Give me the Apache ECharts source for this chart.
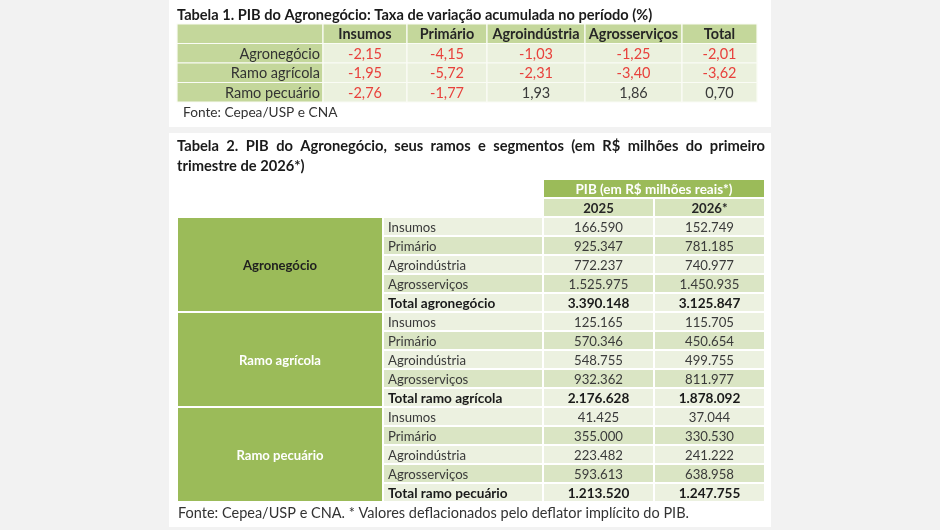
<!DOCTYPE html>
<html>
<head>
<meta charset="utf-8">
<script src="https://cdn.jsdelivr.net/npm/echarts@6/dist/echarts.min.js"></script>
<style>
  html, body { margin: 0; padding: 0; background: #f2f2f2; }
  #main { width: 940px; height: 530px; }
</style>
</head>
<body>
<div id="main"></div>
<script>
// Tabela 1 - taxa de variacao acumulada (%)
var t1Columns = ["Insumos", "Primário", "Agroindústria", "Agrosserviços", "Total"];
var t1Rows = ["Agronegócio", "Ramo agrícola", "Ramo pecuário"];
var t1Agronegocio = [-2.15, -4.15, -1.03, -1.25, -2.01];
var t1Agricola = [-1.95, -5.72, -2.31, -3.40, -3.62];
var t1Pecuario = [-2.76, -1.77, 1.93, 1.86, 0.70];

// Tabela 2 - PIB em R$ milhoes
var t2Groups = ["Agronegócio", "Ramo agrícola", "Ramo pecuário"];
var t2Segments = ["Insumos", "Primário", "Agroindústria", "Agrosserviços"];
var t2Totals = ["Total agronegócio", "Total ramo agrícola", "Total ramo pecuário"];
var t2Header = "PIB (em R$ milhões reais*)";
var t2Years = ["2025", "2026*"];
var pib2025 = [166590, 925347, 772237, 1525975, 3390148,
               125165, 570346, 548755, 932362, 2176628,
               41425, 355000, 223482, 593613, 1213520];
var pib2026 = [152749, 781185, 740977, 1450935, 3125847,
               115705, 450654, 499755, 811977, 1878092,
               37044, 330530, 241222, 638958, 1247755];

var title1 = "Tabela 1. PIB do Agronegócio: Taxa de variação acumulada no período (%)";
var title2a = "Tabela 2. PIB do Agronegócio, seus ramos e segmentos (em R$ milhões do primeiro";
var title2b = "trimestre de 2026*)";
var fonte1 = "Fonte: Cepea/USP e CNA";
var fonte2 = "Fonte: Cepea/USP e CNA. * Valores deflacionados pelo deflator implícito do PIB.";

var FAMILY = 'Lato, "Open Sans", sans-serif';
var ctx = document.createElement("canvas").getContext("2d");
function textW(t, weight, size) {
  ctx.font = weight + " " + size + "px " + FAMILY;
  return ctx.measureText(t).width;
}
// font size that gives the text the width it has in the picture
function fit(t, weight, w) {
  return Math.round(100 * w / textW(t, weight, 100) * 10) / 10;
}

function fmtPct(v) { return v.toFixed(2).replace(".", ","); }
function fmtMil(v) { return String(v).replace(/\B(?=(\d{3})+(?!\d))/g, "."); }

var t1Size = fit("Ramo pecuário", "normal", 95);
var t1HeadSize = fit("Agroindústria", "bold", 87);
var t2Size = fit("Agroindústria", "normal", 78);
var t2BoldSize = fit("Total agronegócio", "bold", 107);
var t2HeadSize = fit(t2Header, "bold", 157);
var t2GroupSize = fit("Agronegócio", "bold", 74);

// ---- tabela 1 cells ----
var t1Edges = [0, 146, 230, 310, 408, 505, 580];
var t1Values = [t1Agronegocio, t1Agricola, t1Pecuario];
var t1Cells = [{ value: [0, 0, 1, 1], kind: "head", text: "" }];
t1Columns.forEach(function (c, i) {
  t1Cells.push({ value: [i + 1, 0, 1, 1], kind: "head", text: c });
});
t1Rows.forEach(function (r, j) {
  t1Cells.push({ value: [0, j + 1, 1, 1], kind: "label", text: r });
  t1Values[j].forEach(function (v, i) {
    t1Cells.push({ value: [i + 1, j + 1, 1, 1], kind: "num", text: fmtPct(v), neg: v < 0 });
  });
});

// ---- tabela 2 cells ----
var t2Edges = [0, 206, 366, 477, 588];
var t2RowKeys = ["h1", "h2"];
var t2Cells = [{ value: [2, 0, 2, 1], kind: "head1", text: t2Header }];
t2Years.forEach(function (y, i) {
  t2Cells.push({ value: [2 + i, 1, 1, 1], kind: "head2", text: y });
});
t2Groups.forEach(function (g, gi) {
  var r0 = 2 + gi * 5;
  t2Cells.push({ value: [0, r0, 1, 5], kind: "group", text: g, first: gi === 0 });
  t2Segments.concat([t2Totals[gi]]).forEach(function (s, k) {
    var idx = gi * 5 + k;
    var total = k === 4;
    t2RowKeys.push(g + "|" + s);
    t2Cells.push({ value: [1, r0 + k, 1, 1], kind: "seg", text: s, alt: k % 2, bold: total });
    t2Cells.push({ value: [2, r0 + k, 1, 1], kind: "val", text: fmtMil(pib2025[idx]), alt: k % 2, bold: total });
    t2Cells.push({ value: [3, r0 + k, 1, 1], kind: "val", text: fmtMil(pib2026[idx]), alt: k % 2, bold: total });
  });
});

function cellBox(api, edges) {
  var col = api.value(0), row = api.value(1), cs = api.value(2), rs = api.value(3);
  var p0 = api.coord([edges[col], row]);
  var p1 = api.coord([edges[col + cs], row]);
  var h = api.size([0, 1])[1];
  return { x: p0[0], y: p0[1] - h / 2, w: p1[0] - p0[0], h: h * rs };
}

function renderT1(params, api) {
  var d = t1Cells[params.dataIndex];
  var b = cellBox(api, t1Edges);
  var fill = d.kind === "num" ? "#ebf1de" : "#c4d79b";
  var txt = {
    text: d.text, x: b.x + b.w / 2, y: b.y + b.h / 2 + 1,
    textAlign: "center", textVerticalAlign: "middle",
    fontFamily: FAMILY, fontSize: t1Size, fontWeight: "normal", fill: "#3a3a3a"
  };
  if (d.kind === "head") { txt.fontWeight = "bold"; txt.fontSize = t1HeadSize; txt.fill = "#262626"; }
  if (d.kind === "label") { txt.textAlign = "right"; txt.x = b.x + b.w - 3; txt.fill = "#333"; }
  if (d.kind === "num" && d.neg) { txt.fill = "#e8413c"; }
  return {
    type: "group",
    children: [
      { type: "rect", shape: { x: b.x, y: b.y, width: b.w, height: b.h },
        style: { fill: fill, stroke: "#fafcf5", lineWidth: 1.2 } },
      { type: "text", style: txt }
    ]
  };
}

function renderT2(params, api) {
  var d = t2Cells[params.dataIndex];
  var b = cellBox(api, t2Edges);
  var fill = d.alt ? "#dae5c4" : "#ecf1e0";
  var txt = {
    text: d.text, x: b.x + b.w / 2, y: b.y + b.h / 2 + 1,
    textAlign: "center", textVerticalAlign: "middle",
    fontFamily: FAMILY, fontSize: t2Size, fontWeight: "normal", fill: "#3a3a3a"
  };
  if (d.kind === "head1") { fill = "#9bbb59"; txt.fontWeight = "bold"; txt.fontSize = t2HeadSize; txt.fill = "#fff"; }
  if (d.kind === "head2") { fill = "#d7e4bd"; txt.fontWeight = "bold"; txt.fontSize = t2Size; txt.fill = "#262626"; }
  if (d.kind === "group") {
    fill = "#9bbb59"; txt.fontWeight = "bold"; txt.fontSize = t2GroupSize;
    txt.fill = d.first ? "#1f1f1f" : "#fff";
  }
  if (d.kind === "seg") { txt.textAlign = "left"; txt.x = b.x + 5; }
  if (d.bold) { txt.fontWeight = "bold"; txt.fontSize = t2BoldSize; txt.fill = "#1a1a1a"; }
  return {
    type: "group",
    children: [
      { type: "rect", shape: { x: b.x, y: b.y, width: b.w, height: b.h },
        style: { fill: fill, stroke: "#fff", lineWidth: 2 } },
      { type: "text", style: txt }
    ]
  };
}

// justified first line of the second title
function justify(text, weight, size, x0, x1, y) {
  var words = text.split(" ");
  var widths = words.map(function (w) { return textW(w, weight, size); });
  var sum = widths.reduce(function (a, b) { return a + b; }, 0);
  var gap = (x1 - x0 - sum) / (words.length - 1);
  var x = x0, out = [];
  words.forEach(function (w, i) {
    out.push({ type: "text", x: x, y: y,
      style: { text: w, fontFamily: FAMILY, fontWeight: weight, fontSize: size,
               fill: "#1a1a1a", textVerticalAlign: "middle" } });
    x += widths[i] + gap;
  });
  return out;
}

var title1Size = fit(title1, "bold", 477);
var title2Size = fit(title2b, "bold", 128);
var fonte1Size = fit(fonte1, "normal", 155);
var fonte2Size = fit(fonte2, "normal", 510);

var graphics = [
  { type: "rect", z: -10, shape: { x: 169, y: 0, width: 602, height: 127 }, style: { fill: "#fff" } },
  { type: "rect", z: -10, shape: { x: 169, y: 133, width: 602, height: 394 }, style: { fill: "#fff" } },
  { type: "text", x: 177, y: 15, style: { text: title1, fontFamily: FAMILY, fontWeight: "bold",
    fontSize: title1Size, fill: "#1a1a1a", textVerticalAlign: "middle" } },
  { type: "text", x: 183, y: 113, style: { text: fonte1, fontFamily: FAMILY, fontSize: fonte1Size,
    fill: "#333", textVerticalAlign: "middle" } },
  { type: "text", x: 177, y: 166, style: { text: title2b, fontFamily: FAMILY, fontWeight: "bold",
    fontSize: title2Size, fill: "#1a1a1a", textVerticalAlign: "middle" } },
  { type: "text", x: 178, y: 513, style: { text: fonte2, fontFamily: FAMILY, fontSize: fonte2Size,
    fill: "#333", textVerticalAlign: "middle" } }
].concat(justify(title2a, "bold", title2Size, 177, 765, 146));

var chartDom = document.getElementById("main");
var myChart = echarts.init(chartDom);

var option = {
  backgroundColor: "#f2f2f2",
  animation: false,
  graphic: graphics,
  grid: [
    { left: 177, top: 24, width: 580, height: 78 },
    { left: 177, top: 179, width: 588, height: 323 }
  ],
  xAxis: [
    { type: "value", gridIndex: 0, min: 0, max: 580, show: false },
    { type: "value", gridIndex: 1, min: 0, max: 588, show: false }
  ],
  yAxis: [
    { type: "category", gridIndex: 0, data: ["cab"].concat(t1Rows), inverse: true, show: false },
    { type: "category", gridIndex: 1, data: t2RowKeys, inverse: true, show: false }
  ],
  series: [
    {
      type: "custom", name: "Tabela 1", xAxisIndex: 0, yAxisIndex: 0, silent: true,
      encode: { x: 0, y: 1 }, renderItem: renderT1, data: t1Cells
    },
    {
      type: "custom", name: "Tabela 2", xAxisIndex: 1, yAxisIndex: 1, silent: true,
      encode: { x: 0, y: 1 }, renderItem: renderT2, data: t2Cells
    }
  ]
};

option && myChart.setOption(option);
</script>
</body>
</html>
